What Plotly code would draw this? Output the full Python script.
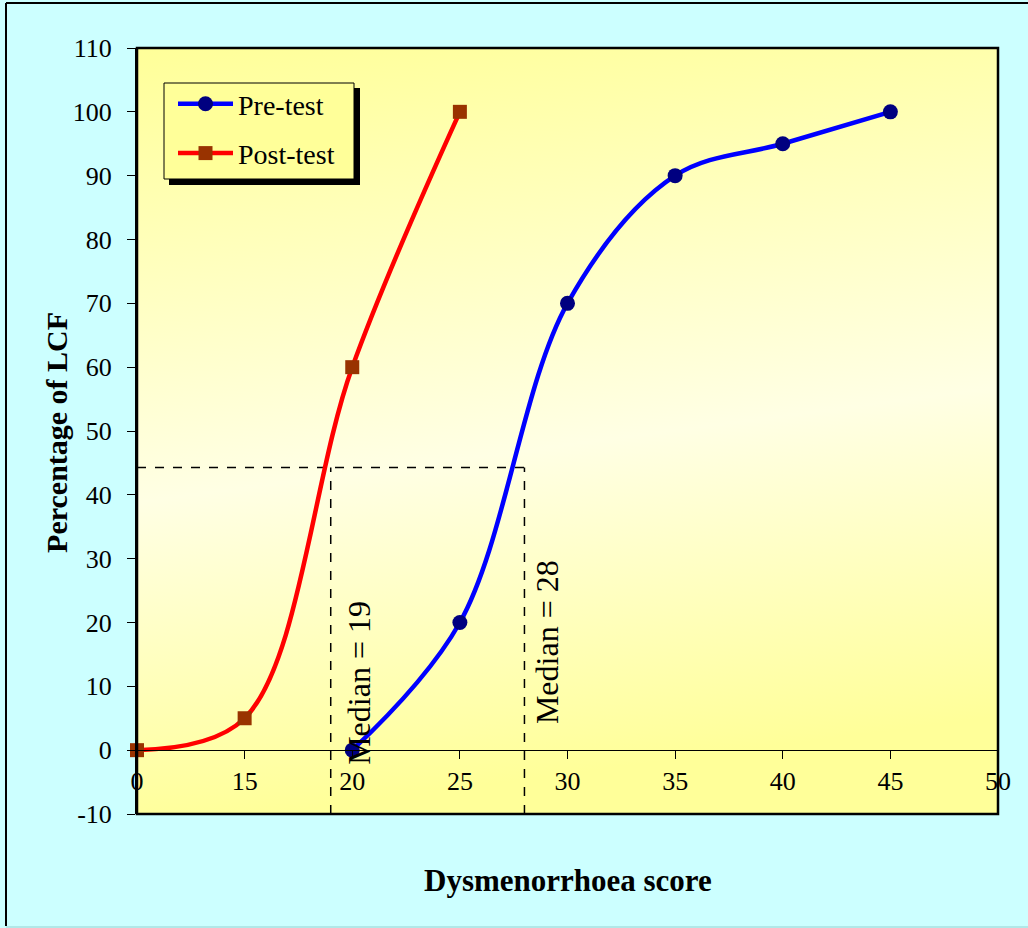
import base64
import numpy as np
import plotly.graph_objects as go

# ---- data ----
categories = [0, 15, 20, 25, 30, 35, 40, 45, 50]
pre_x = [20, 25, 30, 35, 40, 45]
pre_y = [0, 20, 70, 90, 95, 100]
post_x = [0, 15, 20, 25]
post_y = [0, 5, 60, 100]
median_pre = 28
median_post = 19
median_level = 44.3
y_ticks = list(range(-10, 111, 10))

cat_labels = [str(c) for c in categories]
cat_index = list(range(len(categories)))


def to_index(v):
    return float(np.interp(v, categories, cat_index))


def px_x(px):
    return (px - 137) / 861


def px_y(py):
    return (814 - py) / 766


FONT = "Liberation Serif"

fig = go.Figure()
fig.add_trace(go.Scatter(
    x=[str(v) for v in pre_x], y=pre_y, name="Pre-test", legendgroup="pre",
    mode="lines+markers",
    line=dict(color="#0000FF", width=4.5, shape="spline", smoothing=1),
    marker=dict(symbol="circle", size=15, color="#000080"),
    cliponaxis=False,
))
fig.add_trace(go.Scatter(
    x=[str(v) for v in post_x], y=post_y, name="Post-test", legendgroup="post",
    mode="lines+markers",
    line=dict(color="#FF0000", width=4.5, shape="spline", smoothing=1),
    marker=dict(symbol="square", size=14, color="#993300"),
    cliponaxis=False,
))

# gradient background for plot area
svg = ('<svg xmlns="http://www.w3.org/2000/svg" width="100" height="100" viewBox="0 0 100 100" '
       'preserveAspectRatio="none"><defs><linearGradient id="g" x1="0" y1="0" x2="0.15" y2="1">'
       '<stop offset="0" stop-color="#FFFF99"/><stop offset="0.58" stop-color="#FFFFE4"/>'
       '<stop offset="1" stop-color="#FFFF99"/></linearGradient></defs>'
       '<rect x="0" y="0" width="100" height="100" fill="url(#g)"/></svg>')
src = "data:image/svg+xml;base64," + base64.b64encode(svg.encode()).decode()
fig.add_layout_image(dict(source=src, xref="paper", yref="paper", x=0, y=1, sizex=1, sizey=1,
                          sizing="stretch", layer="below", xanchor="left", yanchor="top"))

ip = to_index(median_post)
iq = to_index(median_pre)
dash = dict(color="black", width=1.5, dash="dash")
fig.add_shape(type="line", xref="x", yref="y", x0=0, x1=iq, y0=median_level, y1=median_level,
              line=dash, layer="below")
fig.add_shape(type="line", xref="x", yref="y", x0=ip, x1=ip, y0=-10, y1=median_level,
              line=dash, layer="below")
fig.add_shape(type="line", xref="x", yref="y", x0=iq, x1=iq, y0=-10, y1=median_level,
              line=dash, layer="below")

# plot-area border
fig.add_shape(type="rect", xref="paper", yref="paper", x0=0, x1=1, y0=0, y1=1,
              line=dict(color="black", width=2.5), layer="above")
# outer chart border (left and top) + faint bottom edge
fig.add_shape(type="line", xref="paper", yref="paper", x0=px_x(6), x1=px_x(6), y0=px_y(926), y1=px_y(3),
              line=dict(color="black", width=2))
fig.add_shape(type="line", xref="paper", yref="paper", x0=px_x(6), x1=px_x(1035), y0=px_y(3), y1=px_y(3),
              line=dict(color="black", width=2))
fig.add_shape(type="line", xref="paper", yref="paper", x0=px_x(6), x1=px_x(1035), y0=px_y(927), y1=px_y(927),
              line=dict(color="#A8E0E0", width=1.5))
# legend shadow and box
fig.add_shape(type="rect", xref="paper", yref="paper",
              x0=px_x(169), x1=px_x(360), y0=px_y(185), y1=px_y(88),
              fillcolor="black", line=dict(width=0), layer="above")
fig.add_shape(type="rect", xref="paper", yref="paper",
              x0=px_x(164), x1=px_x(354), y0=px_y(179), y1=px_y(83),
              fillcolor="#FFFF99", line=dict(color="black", width=1), layer="above")

fig.add_annotation(x=ip, y=10.5, xref="x", yref="y", text=f"Median = {median_post}",
                   textangle=-90, showarrow=False, xshift=28,
                   font=dict(family=FONT, size=32, color="black"))
fig.add_annotation(x=iq, y=17, xref="x", yref="y", text=f"Median = {median_pre}",
                   textangle=-90, showarrow=False, xshift=22,
                   font=dict(family=FONT, size=32, color="black"))
fig.add_annotation(x=-0.1145, y=0.4987, xref="paper", yref="paper", text="<b>Percentage of LCF</b>",
                   textangle=-90, showarrow=False, font=dict(family=FONT, size=30, color="black"))
fig.add_annotation(x=0.5006, y=-0.1123, xref="paper", yref="paper", text="<b>Dysmenorrhoea score</b>",
                   showarrow=False, font=dict(family=FONT, size=31, color="black"))

fig.update_layout(
    width=1028, height=928, autosize=False,
    margin=dict(l=137, r=30, t=48, b=114),
    paper_bgcolor="#CCFFFF", plot_bgcolor="rgba(0,0,0,0)",
    font=dict(family=FONT, size=26, color="black"),
    showlegend=True,
    legend=dict(x=px_x(173), y=px_y(79), xanchor="left", yanchor="top",
                bgcolor="rgba(0,0,0,0)", borderwidth=0,
                font=dict(family=FONT, size=28, color="black"),
                traceorder="grouped", tracegroupgap=10, itemwidth=55),
)
fig.update_xaxes(type="category", categoryorder="array", categoryarray=cat_labels,
                 range=[0, len(categories) - 1], anchor="free", position=10 / 120,
                 showline=True, linecolor="black", linewidth=1,
                 ticks="outside", ticklen=8, tickcolor="black", showgrid=False, zeroline=False,
                 tickfont=dict(family=FONT, size=26, color="black"))
fig.update_yaxes(range=[-10, 110], tickvals=y_ticks, ticktext=[str(v) for v in y_ticks],
                 showline=True, linecolor="black", linewidth=2,
                 ticks="outside", ticklen=8, tickcolor="black", showgrid=False, zeroline=False,
                 ticklabelstandoff=10, tickfont=dict(family=FONT, size=26, color="black"))

fig.write_html("out.html", config={"displayModeBar": False},
               post_script="document.body.style.margin='0';document.body.style.overflow='hidden';")
